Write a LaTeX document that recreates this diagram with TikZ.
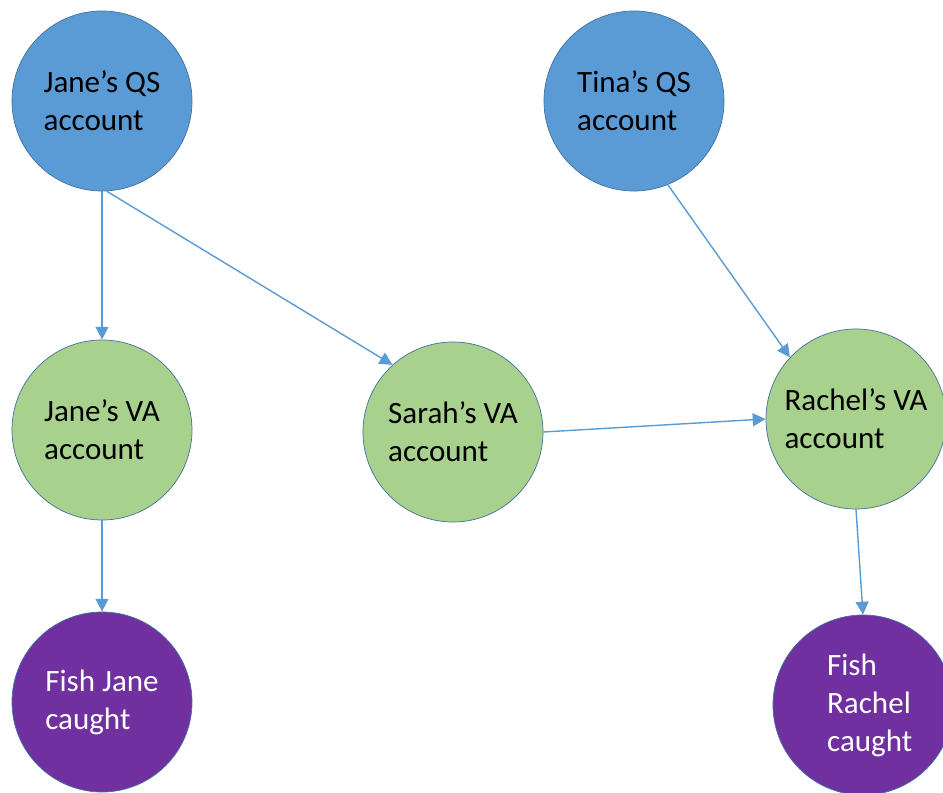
\documentclass[tikz,border=0pt]{standalone}
\usepackage{fontspec}
\setmainfont{Carlito}
\usepackage{tikz}
\usetikzlibrary{arrows.meta}
\definecolor{qsblue}{RGB}{91, 155, 213}
\definecolor{vagreen}{RGB}{169, 209, 142}
\definecolor{fishpurple}{RGB}{112, 48, 160}
\definecolor{rimblue}{RGB}{65, 113, 156}
\definecolor{linkblue}{RGB}{91, 155, 213}

\begin{document}
\begin{tikzpicture}[x=0.03cm, y=-0.03cm,
        acct/.style={circle, draw=rimblue, line width=0.6pt, minimum size=5.4cm, inner sep=0pt,
                     align=left, font=\fontsize{26.5}{32.4}\selectfont},
        qs/.style={acct, fill=qsblue},
        va/.style={acct, fill=vagreen},
        fish/.style={acct, fill=fishpurple, text=white},
        link/.style={-{Triangle[length=11pt, width=11pt]}, linkblue, line width=1.2pt}]
        \useasboundingbox (0,0) rectangle (943,793);

        % QS accounts
        \node[qs] (janeqs) at (102,101) {Jane's QS\\account};
        \node[qs] (tinaqs) at (634,101) {Tina's QS\\account};

        % VA accounts
        \node[va] (janeva) at (102,430) {Jane's VA\\account};
        \node[va] (sarahva) at (453,432) {Sarah's VA\\account};
        \node[va] (rachelva) at (856,419) {Rachel's VA\\account};

        % fish caught
        \node[fish] (fishjane) at (102,702) {Fish Jane\\caught};
        \node[fish, label={[xshift=0.2cm, align=left, text=white, font=\fontsize{26.5}{32.4}\selectfont]center:Fish\\Rachel\\caught}]
            (fishrachel) at (863,705) {};

        % links
        \draw[link] (janeqs) -- (janeva);
        \draw[link] (janeqs.-87) -- (sarahva.132);
        \draw[link] (tinaqs.-68) -- (rachelva.137);
        \draw[link] (sarahva.east) -- (rachelva.west);
        \draw[link] (rachelva.south) -- (fishrachel.north);
        \draw[link] (janeva) -- (fishjane);
    \end{tikzpicture}
\end{document}
